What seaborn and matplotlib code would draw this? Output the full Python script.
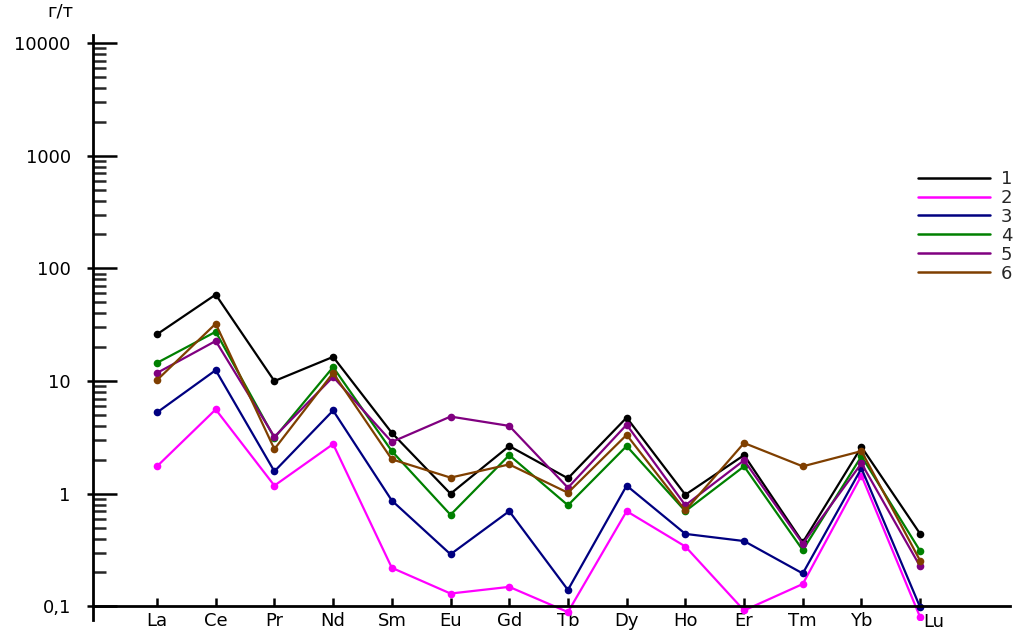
import matplotlib
matplotlib.use("Agg")
import matplotlib.pyplot as plt
from matplotlib.lines import Line2D
from matplotlib.ticker import FixedLocator, NullFormatter, NullLocator
import seaborn as sns
import pandas as pd

elements = ["La", "Ce", "Pr", "Nd", "Sm", "Eu", "Gd", "Tb", "Dy", "Ho", "Er", "Tm", "Yb", "Lu"]
series_names = ["1", "2", "3", "4", "5", "6"]

s1 = [26, 58.6, 10, 16.4, 3.47, 1.0, 2.65, 1.37, 4.74, 0.98, 2.2, 0.37, 2.6, 0.44]
s2 = [1.75, 5.6, 1.18, 2.76, 0.22, 0.13, 0.149, 0.089, 0.70, 0.34, 0.092, 0.158, 1.45, 0.080]
s3 = [5.26, 12.5, 1.58, 5.48, 0.87, 0.29, 0.70, 0.14, 1.18, 0.44, 0.38, 0.196, 1.68, 0.098]
s4 = [14.5, 27.4, 3.13, 13.3, 2.39, 0.65, 2.2, 0.79, 2.65, 0.70, 1.75, 0.316, 2.15, 0.31]
s5 = [11.8, 22.7, 3.2, 10.9, 2.88, 4.84, 4.0, 1.13, 4.1, 0.79, 1.98, 0.36, 1.86, 0.226]
s6 = [10.2, 32.3, 2.49, 11.8, 2.02, 1.39, 1.82, 1.02, 3.33, 0.71, 2.82, 1.75, 2.39, 0.254]

y_ticks = [0.1, 1, 10, 100, 1000, 10000]
y_tick_labels = ["0,1", "1", "10", "100", "1000", "10000"]
y_unit = "г/т"

colors = ["#000000", "#FF00FF", "#000080", "#008000", "#800080", "#7F3F00"]

all_series = [s1, s2, s3, s4, s5, s6]
rows = []
for name, vals in zip(series_names, all_series):
    for i, (el, v) in enumerate(zip(elements, vals)):
        rows.append({"series": name, "pos": i, "element": el, "value": v})
df = pd.DataFrame(rows)

sns.set_theme(style="white")
plt.rcParams["font.family"] = ["DejaVu Sans"]
FS = 13

fig = plt.figure(figsize=(10.16, 6.30), dpi=100)
ax = fig.add_axes([93 / 1016, 10 / 630, (1010 - 93) / 1016, (620 - 35) / 630])

palette = dict(zip(series_names, colors))
sns.lineplot(data=df, x="pos", y="value", hue="series", palette=palette,
             marker="o", markersize=5.5, markeredgewidth=0, linewidth=1.6,
             sort=False, legend=False, ax=ax)

ax.set_yscale("log")
ax.set_ylim(0.0757, 11800)
ax.set_xlim(-1.09, 14.53)

ax.spines["top"].set_visible(False)
ax.spines["right"].set_visible(False)
ax.spines["bottom"].set_position(("data", 0.1))
for sp in ("left", "bottom"):
    ax.spines[sp].set_color("black")
    ax.spines[sp].set_linewidth(2.0)

ax.yaxis.set_major_locator(FixedLocator(y_ticks))
ax.set_yticklabels(y_tick_labels)
minor = [m * 10 ** e for e in range(-1, 4) for m in range(2, 10)]
ax.yaxis.set_minor_locator(FixedLocator(minor))
ax.yaxis.set_minor_formatter(NullFormatter())
ax.tick_params(axis="y", which="major", direction="in", length=17, width=1.8,
               pad=16, labelsize=FS, colors="black", left=True)
ax.tick_params(axis="y", which="minor", direction="in", length=9, width=1.8, left=True)

# short outward stubs of the major y ticks
sec = ax.secondary_yaxis("left")
sec.set_yticks(y_ticks)
sec.set_yticklabels([])
sec.yaxis.set_minor_locator(NullLocator())
sec.tick_params(axis="y", which="major", direction="out", length=4, width=1.8, colors="black")
sec.spines["left"].set_visible(False)

ax.set_xticks(range(len(elements)))
ax.set_xticklabels(elements)
ax.tick_params(axis="x", which="major", direction="in", length=6, width=1.8,
               pad=4, labelsize=FS, colors="black", bottom=True)
lbls = ax.get_xticklabels()
lbls[-1].set_visible(False)
ax.annotate(elements[-1], xy=(len(elements) - 1, 0.1), xycoords="data",
            xytext=(10, -11.5), textcoords="offset points", ha="center", va="center",
            fontsize=FS, color="black", annotation_clip=False)

ax.set_xlabel("")
ax.set_ylabel("")
ax.grid(False)
fig.text(60 / 1016, 1 - 11 / 630, y_unit, ha="center", va="center", fontsize=FS, color="black")

handles = [Line2D([0], [0], color=c, linewidth=1.8) for c in colors]
ax.legend(handles, series_names, loc="upper left",
          bbox_to_anchor=(918 / 1016, 1 - 170 / 630), bbox_transform=fig.transFigure,
          frameon=False, borderaxespad=0, borderpad=0, handlelength=4.0,
          handletextpad=0.6, labelspacing=0.05, fontsize=FS)

fig.savefig("out.png", dpi=100, facecolor="white")
